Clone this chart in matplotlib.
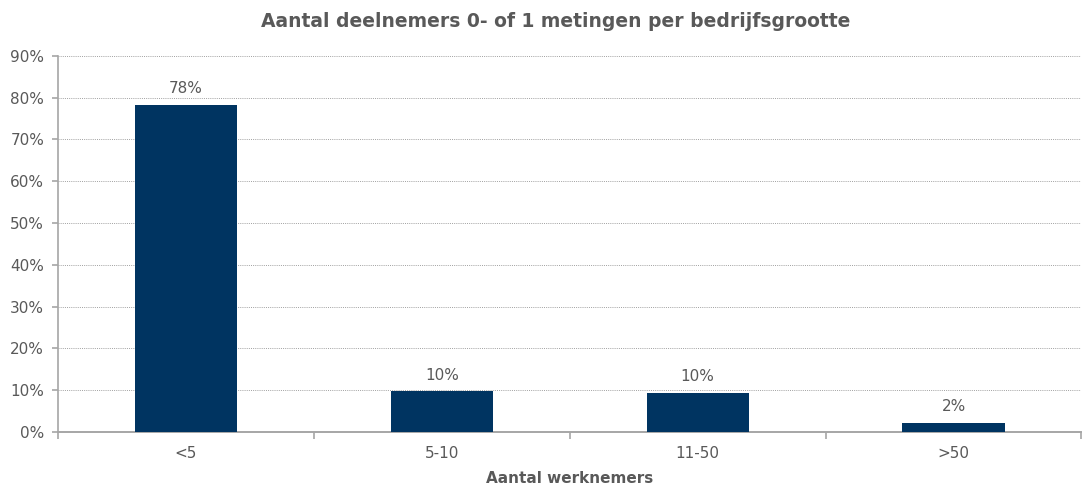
import numpy as np
import matplotlib.pyplot as plt
from matplotlib.ticker import FixedLocator, PercentFormatter

# Data
categories = ['<5', '5-10', '11-50', '>50']
values = [78.3, 9.8, 9.4, 2.2]
labels = ['78%', '10%', '10%', '2%']

bar_color = '#003461'
text_color = '#595959'
axis_color = '#a6a6a6'

fig = plt.figure(figsize=(10.83, 4.86), dpi=100)
ax = fig.add_axes([0.0536, 0.111, 0.945, 0.774])

x = np.arange(len(categories))
bars = ax.bar(x, values, width=0.4, color=bar_color, zorder=3)

for b, lab in zip(bars, labels):
    ax.text(b.get_x() + b.get_width() / 2, b.get_height() + 2.0, lab,
            ha='center', va='bottom', fontsize=11, color=text_color)

ax.set_xlim(-0.5, len(categories) - 0.5)
ax.set_ylim(0, 90)
ax.yaxis.set_major_locator(FixedLocator(np.arange(0, 91, 10)))
ax.yaxis.set_major_formatter(PercentFormatter(decimals=0))
ax.grid(axis='y', color='#a0a0a0', linestyle=(0, (1, 1.2)), linewidth=0.7, zorder=0)

# category labels centred, tick marks between categories
ax.xaxis.set_major_locator(FixedLocator(np.arange(-0.5, len(categories), 1)))
ax.xaxis.set_major_formatter(plt.NullFormatter())
ax.xaxis.set_minor_locator(FixedLocator(x))
ax.set_xticklabels(categories, minor=True)
ax.tick_params(axis='x', which='minor', length=0, pad=10, labelsize=11, labelcolor=text_color)
ax.tick_params(axis='x', which='major', length=5, color=axis_color, width=1.2)
ax.tick_params(axis='y', length=4, color=axis_color, width=1.2, labelsize=11,
               labelcolor=text_color, pad=6)

for s in ['top', 'right']:
    ax.spines[s].set_visible(False)
ax.spines['left'].set_color(axis_color)
ax.spines['bottom'].set_color(axis_color)
ax.spines['left'].set_linewidth(1.2)
ax.spines['bottom'].set_linewidth(1.4)

ax.set_xlabel('Aantal werknemers', fontsize=11, fontweight='bold', color=text_color, labelpad=7)
fig.suptitle('Aantal deelnemers 0- of 1 metingen per bedrijfsgrootte', x=0.513, y=0.975,
             fontsize=13.5, fontweight='bold', color=text_color)

fig.savefig('out.png', dpi=100)
